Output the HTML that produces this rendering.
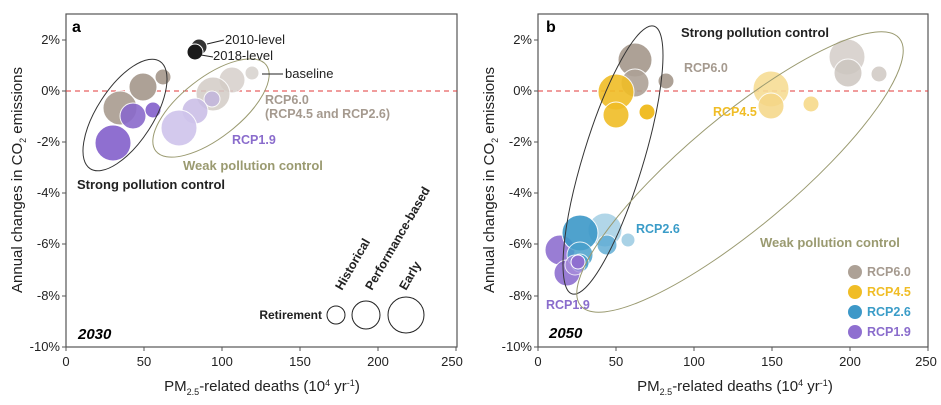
<!DOCTYPE html>
<html><head><meta charset="utf-8"><style>
body{margin:0;background:#fff;}
svg{display:block;font-family:"Liberation Sans",Arial,sans-serif;}
.t{font-size:13px;fill:#222;}
.b{font-weight:bold;}
</style></head><body>
<svg width="941" height="405" viewBox="0 0 941 405">
<!-- Panel A -->
<rect x="66" y="14" width="391" height="333" fill="none" stroke="#555" stroke-width="1.2"/>
<line x1="66" y1="91" x2="457" y2="91" stroke="#e23a3a" stroke-dasharray="5,4" stroke-width="1"/>
<g class="t" text-anchor="end">
<text x="60" y="44">2%</text><text x="60" y="95">0%</text><text x="60" y="146">-2%</text><text x="60" y="197">-4%</text><text x="60" y="248">-6%</text><text x="60" y="300">-8%</text><text x="60" y="351">-10%</text>
</g>
<g stroke="#555"><line x1="62" y1="40" x2="66" y2="40"/><line x1="62" y1="91" x2="66" y2="91"/><line x1="62" y1="142" x2="66" y2="142"/><line x1="62" y1="193" x2="66" y2="193"/><line x1="62" y1="244" x2="66" y2="244"/><line x1="62" y1="296" x2="66" y2="296"/><line x1="62" y1="347" x2="66" y2="347"/>
<line x1="66" y1="347" x2="66" y2="351"/><line x1="144" y1="347" x2="144" y2="351"/><line x1="222" y1="347" x2="222" y2="351"/><line x1="300" y1="347" x2="300" y2="351"/><line x1="378" y1="347" x2="378" y2="351"/><line x1="456" y1="347" x2="456" y2="351"/></g>
<g class="t" text-anchor="middle"><text x="66" y="366">0</text><text x="144" y="366">50</text><text x="222" y="366">100</text><text x="300" y="366">150</text><text x="378" y="366">200</text><text x="452" y="366">250</text></g>
<text x="262" y="391" text-anchor="middle" style="font-size:15px" fill="#222">PM<tspan font-size="9" dy="4">2.5</tspan><tspan dy="-4">-related deaths (10</tspan><tspan font-size="9" dy="-5">4</tspan><tspan dy="5"> yr</tspan><tspan font-size="9" dy="-5">-1</tspan><tspan dy="5">)</tspan></text>
<text transform="translate(22,180) rotate(-90)" text-anchor="middle" style="font-size:15px" fill="#222">Annual changes in CO<tspan font-size="9" dy="4">2</tspan><tspan dy="-4"> emissions</tspan></text>
<text x="72" y="32" class="b" style="font-size:16px">a</text>
<text x="78" y="339" class="b" style="font-size:15px;font-style:italic">2030</text>
<!-- circles a -->
<g stroke="#fff" stroke-width="1">
<circle cx="199" cy="47" r="8" fill="#333"/><circle cx="195" cy="52" r="8" fill="#1a1a1a"/>
<circle cx="252" cy="73" r="7" fill="#d9d4d0" opacity=".9"/><circle cx="232" cy="80" r="13" fill="#d6d0cb" opacity=".85"/><circle cx="213" cy="94" r="17" fill="#d3ccc6" opacity=".85"/>
<circle cx="212" cy="99" r="8" fill="#c2b5dd" opacity=".85"/><circle cx="195" cy="111" r="13" fill="#c8bce6" opacity=".85"/><circle cx="179" cy="128" r="18" fill="#cfc4ec" opacity=".9"/>
<circle cx="163" cy="77" r="8" fill="#ada196"/><circle cx="143" cy="87" r="14" fill="#ada196"/><circle cx="120" cy="108" r="17" fill="#a99c90" opacity=".9"/>
<circle cx="133" cy="116" r="13" fill="#8a6acb" opacity=".9"/><circle cx="153" cy="110" r="8" fill="#8f6fd0"/><circle cx="113" cy="143" r="18" fill="#8f6fd0"/>
</g>
<ellipse cx="125" cy="115" rx="64" ry="28" transform="rotate(-57 125 115)" fill="none" stroke="#333" stroke-width="1"/>
<ellipse cx="211" cy="108" rx="70" ry="30" transform="rotate(-38 211 108)" fill="none" stroke="#9a9a70" stroke-width="1"/>
<g stroke="#222" stroke-width="1"><line x1="207" y1="44" x2="224" y2="40"/><line x1="201" y1="55" x2="213" y2="57"/><line x1="262" y1="74" x2="283" y2="74"/></g>
<text x="225" y="44" class="t">2010-level</text><text x="213" y="60" class="t">2018-level</text><text x="285" y="78" class="t">baseline</text>
<text x="265" y="104" class="b" style="font-size:12.5px" fill="#a59a8f">RCP6.0</text>
<text x="265" y="118" class="b" style="font-size:12.5px" fill="#a59a8f">(RCP4.5 and RCP2.6)</text>
<text x="232" y="144" class="b" style="font-size:12.5px" fill="#8a6ccc">RCP1.9</text>
<text x="183" y="170" class="b" style="font-size:13px" fill="#9a9a70">Weak pollution control</text>
<text x="77" y="189" class="b" style="font-size:13px" fill="#222">Strong pollution control</text>
<g fill="none" stroke="#222" stroke-width="1"><circle cx="336" cy="315" r="9"/><circle cx="366" cy="315" r="14"/><circle cx="406" cy="315" r="18"/></g>
<text x="322" y="319" text-anchor="end" class="b" style="font-size:12px" fill="#222">Retirement</text>
<g class="b" style="font-size:12.5px" fill="#222">
<text transform="translate(342,291) rotate(-60)">Historical</text>
<text transform="translate(372,291) rotate(-60)">Performance-based</text>
<text transform="translate(406,291) rotate(-60)">Early</text></g>

<!-- Panel B -->
<rect x="538" y="14" width="390" height="333" fill="none" stroke="#555" stroke-width="1.2"/>
<line x1="538" y1="91" x2="928" y2="91" stroke="#e23a3a" stroke-dasharray="5,4" stroke-width="1"/>
<g class="t" text-anchor="end">
<text x="532" y="44">2%</text><text x="532" y="95">0%</text><text x="532" y="146">-2%</text><text x="532" y="197">-4%</text><text x="532" y="248">-6%</text><text x="532" y="300">-8%</text><text x="532" y="351">-10%</text>
</g>
<g stroke="#555"><line x1="534" y1="40" x2="538" y2="40"/><line x1="534" y1="91" x2="538" y2="91"/><line x1="534" y1="142" x2="538" y2="142"/><line x1="534" y1="193" x2="538" y2="193"/><line x1="534" y1="244" x2="538" y2="244"/><line x1="534" y1="296" x2="538" y2="296"/><line x1="534" y1="347" x2="538" y2="347"/>
<line x1="538" y1="347" x2="538" y2="351"/><line x1="616" y1="347" x2="616" y2="351"/><line x1="694" y1="347" x2="694" y2="351"/><line x1="772" y1="347" x2="772" y2="351"/><line x1="850" y1="347" x2="850" y2="351"/><line x1="928" y1="347" x2="928" y2="351"/></g>
<g class="t" text-anchor="middle"><text x="538" y="366">0</text><text x="616" y="366">50</text><text x="694" y="366">100</text><text x="772" y="366">150</text><text x="850" y="366">200</text><text x="926" y="366">250</text></g>
<text x="735" y="391" text-anchor="middle" style="font-size:15px" fill="#222">PM<tspan font-size="9" dy="4">2.5</tspan><tspan dy="-4">-related deaths (10</tspan><tspan font-size="9" dy="-5">4</tspan><tspan dy="5"> yr</tspan><tspan font-size="9" dy="-5">-1</tspan><tspan dy="5">)</tspan></text>
<text transform="translate(494,180) rotate(-90)" text-anchor="middle" style="font-size:15px" fill="#222">Annual changes in CO<tspan font-size="9" dy="4">2</tspan><tspan dy="-4"> emissions</tspan></text>
<text x="546" y="32" class="b" style="font-size:16px">b</text>
<text x="549" y="338" class="b" style="font-size:15px;font-style:italic">2050</text>
<g stroke="#fff" stroke-width="1">
<circle cx="847" cy="57" r="18" fill="#d6d0cb" opacity=".9"/><circle cx="848" cy="73" r="14" fill="#cdc6c0" opacity=".85"/><circle cx="879" cy="74" r="8" fill="#d6d0cb"/>
<circle cx="771" cy="89" r="18" fill="#f7dd95" opacity=".9"/><circle cx="771" cy="106" r="13" fill="#f5d686" opacity=".85"/><circle cx="811" cy="104" r="8" fill="#f7dd95"/>
<circle cx="635" cy="60" r="17" fill="#ada196"/><circle cx="635" cy="83" r="14" fill="#ada196" opacity=".9"/><circle cx="666" cy="81" r="8" fill="#ada196"/>
<circle cx="616" cy="92" r="18" fill="#f0bd26" opacity=".9"/><circle cx="616" cy="115" r="13" fill="#f0bd26" opacity=".9"/><circle cx="647" cy="112" r="8" fill="#f0bd26"/>
<circle cx="605" cy="230" r="17" fill="#a9d2e6" opacity=".9"/><circle cx="628" cy="240" r="7" fill="#a9d2e6"/><circle cx="607" cy="245" r="10" fill="#5aaad3" opacity=".8"/>
<circle cx="560" cy="250" r="15" fill="#8f6fd0" opacity=".9"/><circle cx="567" cy="273" r="13" fill="#8f6fd0" opacity=".9"/>
<circle cx="580" cy="233" r="18" fill="#3d98c8" opacity=".9"/><circle cx="580" cy="255" r="13" fill="#4aa0cc" opacity=".85"/><circle cx="580" cy="263" r="9" fill="#4aa0cc" opacity=".85"/>
<circle cx="575" cy="265" r="10" fill="#a68bdb" opacity=".8"/><circle cx="578" cy="262" r="7" fill="#8f6fd0"/>
</g>
<ellipse cx="613" cy="160" rx="140" ry="30" transform="rotate(-73 613 160)" fill="none" stroke="#333" stroke-width="1"/>
<ellipse cx="740" cy="172" rx="208" ry="55" transform="rotate(-40 740 172)" fill="none" stroke="#9a9a70" stroke-width="1"/>
<text x="681" y="37" class="b" style="font-size:13px" fill="#222">Strong pollution control</text>
<text x="684" y="72" class="b" style="font-size:12.5px" fill="#a59a8f">RCP6.0</text>
<text x="713" y="116" class="b" style="font-size:12.5px" fill="#f0bd26">RCP4.5</text>
<text x="636" y="233" class="b" style="font-size:12.5px" fill="#3a9cc8">RCP2.6</text>
<text x="546" y="309" class="b" style="font-size:12.5px" fill="#8a6ccc">RCP1.9</text>
<text x="760" y="247" class="b" style="font-size:13px" fill="#9a9a70">Weak pollution control</text>
<circle cx="855" cy="272" r="7" fill="#ada196"/><circle cx="855" cy="292" r="7" fill="#f0bd26"/><circle cx="855" cy="312" r="7" fill="#3d98c8"/><circle cx="855" cy="332" r="7" fill="#8f6fd0"/>
<g class="b" style="font-size:12.5px"><text x="867" y="276" fill="#a59a8f">RCP6.0</text><text x="867" y="296" fill="#f0bd26">RCP4.5</text><text x="867" y="316" fill="#3a9cc8">RCP2.6</text><text x="867" y="336" fill="#8a6ccc">RCP1.9</text></g>
</svg>
</body></html>
